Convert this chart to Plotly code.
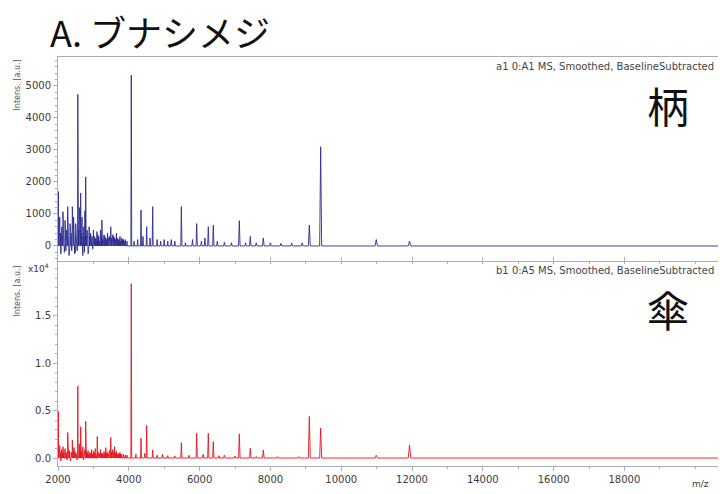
import plotly.graph_objects as go

# ---- data ----
# stem (柄) spectrum: major peaks (m/z, intensity a.u.)
stem_mz = [2010, 2140, 2274, 2405, 2560, 2640, 2782, 3240, 3490, 4070, 4345, 4505, 4675,
           5485, 5918, 6246, 6387, 7122, 7432, 7800, 9100, 9420, 10990, 11930]
stem_int = [1700, 1070, 1230, 1230, 4740, 1650, 2160, 810, 600, 5340, 1120, 600, 1230,
            1230, 700, 600, 650, 790, 300, 250, 650, 3100, 200, 150]
# stem minor peaks / noise
stem_minor_mz = [2030, 2050, 2065, 2080, 2095, 2110, 2125, 2160, 2180, 2200, 2220, 2240,
                 2255, 2292, 2310, 2325, 2340, 2355, 2370, 2387, 2425, 2440, 2455, 2470,
                 2485, 2500, 2520, 2540, 2585, 2605, 2620, 2662, 2680, 2700, 2715, 2730,
                 2745, 2760, 2805, 2820, 2835, 2850, 2865, 2880, 2900, 2920, 2940, 2960,
                 2980, 3000, 3025, 3050, 3075, 3100, 3125, 3150, 3175, 3200, 3225, 3265,
                 3285, 3300, 3325, 3350, 3375, 3400, 3425, 3450, 3470, 3515, 3535, 3550,
                 3575, 3600, 3625, 3650, 3675, 3700, 3725, 3750, 3775, 3800, 3825, 3850,
                 3875, 3900, 3950, 4150, 4250, 4400, 4600, 4800, 4900, 5000, 5100,
                 5200, 5300, 5600, 5800, 6050, 6150, 6500, 6700, 6900, 7300, 7600, 8000,
                 8300, 8600, 8900]
stem_minor_int = [600, 900, 400, -250, -150, 600, 300, 500, -200, 800, -150, 500,
                  300, 600, -300, -200, 700, 500, 400, -150, 300, 900, 600, -250,
                  -200, 700, 400, -150, 500, 1200, 800, 400, 900, -300, 300, 600,
                  -200, 1100, 300, 500, 400, -250, -150, 600, 300, 400, 200, 300,
                  -100, 500, 300, 250, 200, 450, 350, 300, 150, 500, 300, 200,
                  250, 350, 300, 250, 200, 400, 250, 300, 200, 250, 200, 350,
                  300, 250, 200, 400, 250, 200, 200, 300, 150, 250, 200, 200,
                  150, 200, 150, 150, 200, 300, 250, 200, 150, 200, 150,
                  200, 150, 100, 200, 150, 250, 150, 120, 100, 100, 100, 100,
                  80, 90, 100]

# cap (傘) spectrum
cap_mz = [2010, 2140, 2274, 2405, 2560, 2640, 2782, 3110, 3490, 3600, 4070, 4345, 4505,
          4675, 5485, 5918, 6246, 6387, 7122, 7432, 7800, 9100, 9420, 10990, 11930]
cap_int = [4900, 1200, 2700, 1900, 7600, 3300, 3870, 2270, 2160, 1200, 18400, 2100, 3440,
           850, 1630, 2620, 2620, 1740, 2550, 1030, 850, 4400, 3160, 300, 1380]
cap_minor_mz = [2030, 2050, 2065, 2080, 2100, 2120, 2165, 2200, 2230, 2250, 2295, 2320,
                2350, 2370, 2430, 2450, 2480, 2510, 2535, 2600, 2620, 2665, 2700, 2720,
                2740, 2760, 2810, 2830, 2850, 2875, 2900, 2925, 2950, 2975, 3000, 3025,
                3050, 3075, 3135, 3150, 3175, 3200, 3225, 3250, 3275, 3300, 3325, 3350,
                3375, 3400, 3425, 3450, 3470, 3515, 3535, 3550, 3575, 3625, 3650, 3675,
                3700, 3725, 3750, 3775, 3800, 3850, 3900, 3950, 4200, 4450, 4800, 4950,
                5100, 5300, 5700, 6100, 6550, 6700, 7000, 7600, 8200, 8800]
cap_minor_int = [900, 1300, 600, -300, 900, 500, 700, 1000, 600, -200, 900, 800,
                 -300, 600, 700, 1100, 700, 500, -200, 1500, 900, 700, 1200, -200,
                 500, 900, 700, 500, 800, 400, 600, 500, 900, 400, 700, 500,
                 1000, 400, 600, 600, 400, 900, 500, 500, 400, 700, 500, 1100,
                 500, 600, 400, 800, 500, 600, 400, 900, 600, 500, 700, 400,
                 500, 400, 600, 400, 400, 400, 300, 300, 400, 500, 300, 400,
                 250, 200, 300, 400, 250, 300, 200, 150, 150, 150]

x_ticks = [2000, 4000, 6000, 8000, 10000, 12000, 14000, 16000, 18000]
stem_yticks = [0, 1000, 2000, 3000, 4000, 5000]
cap_yticks = [0.0, 0.5, 1.0, 1.5]
CAP_SCALE = 1e4


def stick_trace(mz_a, int_a, mz_b, int_b, scale=1.0):
    pk = sorted(list(zip(mz_a, int_a)) + list(zip(mz_b, int_b)))
    xs, ys = [2000], [0]
    for m, h in pk:
        w = 0.003 * m
        xs += [m - w, m, m + w]
        ys += [0, h / scale, 0]
    xs.append(20700)
    ys.append(0)
    return xs, ys


sx, sy = stick_trace(stem_mz, stem_int, stem_minor_mz, stem_minor_int)
cx, cy = stick_trace(cap_mz, cap_int, cap_minor_mz, cap_minor_int, CAP_SCALE)

fig = go.Figure()
fig.add_trace(go.Scatter(x=sx, y=sy, mode="lines", line=dict(color="#2b2b8e", width=0.9),
                         xaxis="x", yaxis="y", showlegend=False, hoverinfo="skip"))
fig.add_trace(go.Scatter(x=cx, y=cy, mode="lines", line=dict(color="#e6141f", width=0.9),
                         xaxis="x2", yaxis="y2", showlegend=False, hoverinfo="skip"))

L, R, T, B = 58, 2, 57, 28
W, H = 720, 494
pw, ph = W - L - R, H - T - B


def px(xp):
    return (xp - L) / pw


def py(yp):
    return (H - B - yp) / ph


tickfont = dict(family="DejaVu Sans", size=10, color="#3a3a3a")
axcol = "#a9adb5"

common_x = dict(range=[2000, 2000 + pw / 35.4 * 1000], showgrid=False, zeroline=False,
                showline=True, linecolor=axcol, linewidth=1, tickcolor=axcol,
                tickvals=x_ticks, ticklen=4,
                minor=dict(dtick=1000, tick0=2000, ticklen=2, tickcolor=axcol, showgrid=False))

fig.update_layout(
    width=W, height=H, margin=dict(l=L, r=R, t=T, b=B),
    paper_bgcolor="white", plot_bgcolor="white",
    xaxis=dict(common_x, anchor="y", domain=[0, 1], showticklabels=False, ticks="inside",
               mirror=True),
    yaxis=dict(domain=[py(261), 1], range=[-470, 5906], anchor="x", showgrid=False,
               zeroline=False, showline=True, linecolor=axcol, ticks="outside",
               tickcolor=axcol, ticklen=4, tickvals=stem_yticks, tickfont=tickfont,
               minor=dict(dtick=200, tick0=0, ticks="outside", ticklen=2, tickcolor=axcol)),
    xaxis2=dict(common_x, anchor="y2", domain=[0, 1], ticks="outside", tickfont=tickfont,
                mirror=True, tickformat="d"),
    yaxis2=dict(domain=[0, py(262)], range=[-0.084, 2.07], anchor="x2", showgrid=False,
                zeroline=False, showline=True, linecolor=axcol, ticks="outside",
                tickcolor=axcol, ticklen=4, tickvals=cap_yticks, tickformat=".1f",
                tickfont=tickfont,
                minor=dict(dtick=0.1, tick0=0, ticks="outside", ticklen=2, tickcolor=axcol)),
)

lab_font = dict(family="DejaVu Sans", size=10, color="#444")
ann = []
ann.append(dict(text="A. ブナシメジ", x=px(48), y=py(31), xref="paper", yref="paper",
                xanchor="left", yanchor="middle", showarrow=False,
                font=dict(family="Noto Sans CJK JP", size=36, color="#111")))
ann.append(dict(text="a1 0:A1 MS, Smoothed, BaselineSubtracted", x=px(716), y=py(66),
                xref="paper", yref="paper", xanchor="right", yanchor="middle", showarrow=False,
                font=lab_font))
ann.append(dict(text="b1 0:A5 MS, Smoothed, BaselineSubtracted", x=px(716), y=py(270),
                xref="paper", yref="paper", xanchor="right", yanchor="middle", showarrow=False,
                font=lab_font))
ann.append(dict(text="柄", x=px(668), y=py(104), xref="paper", yref="paper",
                xanchor="center", yanchor="middle", showarrow=False,
                font=dict(family="Noto Sans CJK JP", size=42, color="#111")))
ann.append(dict(text="傘", x=px(668), y=py(308), xref="paper", yref="paper",
                xanchor="center", yanchor="middle", showarrow=False,
                font=dict(family="Noto Sans CJK JP", size=42, color="#111")))
ann.append(dict(text="Intens. [a.u.]", x=px(17), y=py(58), xref="paper", yref="paper",
                xanchor="center", yanchor="top", textangle=-90, showarrow=False,
                font=dict(family="DejaVu Sans", size=8, color="#555")))
ann.append(dict(text="Intens. [a.u.]", x=px(17), y=py(264), xref="paper", yref="paper",
                xanchor="center", yanchor="top", textangle=-90, showarrow=False,
                font=dict(family="DejaVu Sans", size=8, color="#555")))
ann.append(dict(text="x10<sup>4</sup>", x=px(51), y=py(268), xref="paper", yref="paper",
                xanchor="right", yanchor="middle", showarrow=False,
                font=dict(family="DejaVu Sans", size=9, color="#3a3a3a")))
ann.append(dict(text="m/z", x=px(700), y=py(484), xref="paper", yref="paper",
                xanchor="center", yanchor="middle", showarrow=False,
                font=dict(family="DejaVu Sans", size=9, color="#3a3a3a")))
fig.update_layout(annotations=ann)

fig.write_html("out.html")
